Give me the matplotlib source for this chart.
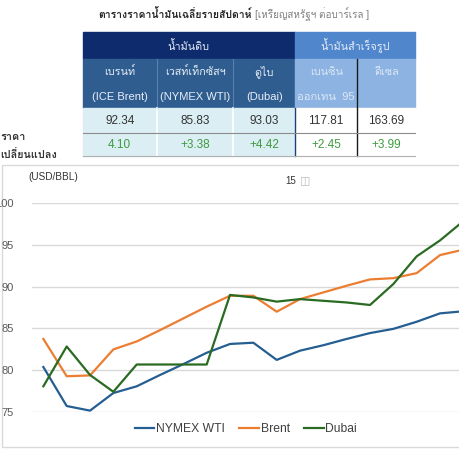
import matplotlib
matplotlib.use("Agg")
import matplotlib.pyplot as plt
from matplotlib import font_manager
from matplotlib.ft2font import FT2Font
from matplotlib.patches import Rectangle


def find_thai_font():
    for f in font_manager.fontManager.ttflist:
        try:
            if FT2Font(f.fname).get_char_index(0x0E01):
                return f.name
        except Exception:
            pass
    return None


thai = find_thai_font()
fams = ["Liberation Sans"] + ([thai] if thai else []) + ["DejaVu Sans"]
plt.rcParams["font.family"] = fams

# weekly prices, USD/BBL
wti = [80.4, 75.75, 75.2, 77.3, 78.1, 79.45, 80.75, 82.1, 83.15, 83.3,
       81.25, 82.35, 83.0, 83.75, 84.45, 84.95, 85.8, 86.8, 87.05]
brent = [83.75, 79.3, 79.4, 82.5, 83.45, 84.8, 86.2, 87.6, 88.9, 88.9,
         87.0, 88.5, 89.3, 90.1, 90.85, 91.0, 91.6, 93.75, 94.4]
dubai = [78.1, 82.85, 79.45, 77.45, 80.7, 80.7, 80.7, 80.7, 89.0, 88.7,
         88.2, 88.5, 88.3, 88.1, 87.8, 90.3, 93.6, 95.5, 97.8]
yticks = [75, 80, 85, 90, 95, 100]

# table
title_bold = "ตารางราคาน้ำมันเฉลี่ยรายสัปดาห์"
title_unit = "[เหรียญสหรัฐฯ ต่อบาร์เรล ]"
groups = ["น้ำมันดิบ", "น้ำมันสำเร็จรูป"]
names_th = ["เบรนท์", "เวสท์เท็กซัสฯ", "ดูไบ", "เบนซิน", "ดีเซล"]
names_en = ["(ICE Brent)", "(NYMEX WTI)", "(Dubai)", "ออกเทน  95", ""]
prices = ["92.34", "85.83", "93.03", "117.81", "163.69"]
changes = ["4.10", "+3.38", "+4.42", "+2.45", "+3.99"]
change_label = ["ราคา", "เปลี่ยนแปลง"]

W, H = 459, 450
fig = plt.figure(figsize=(W / 100, H / 100), dpi=100)

# ---- overlay in pixel coords
ov = fig.add_axes([0, 0, 1, 1])
ov.set_xlim(0, W)
ov.set_ylim(H, 0)
ov.axis("off")

ov.text(252, 14, title_bold, ha="right", va="center", fontsize=7.5,
        fontweight="bold", color="#262626")
ov.text(255, 14, title_unit, ha="left", va="center", fontsize=7.1,
        color="#7f7f7f")

cx = [82.7, 156.7, 233.3, 295, 357.3, 415]
ry = [32.3, 59.3, 108.3, 133.3, 156]

ov.add_patch(Rectangle((cx[0], ry[0]), cx[3] - cx[0], ry[1] - ry[0], color="#0e2b6d"))
ov.add_patch(Rectangle((cx[3], ry[0]), cx[5] - cx[3], ry[1] - ry[0], color="#4f86cc"))
ov.text((cx[0] + cx[3]) / 2, (ry[0] + ry[1]) / 2, groups[0], ha="center",
        va="center", fontsize=7.8, color="#e8eef7")
ov.text((cx[3] + cx[5]) / 2, (ry[0] + ry[1]) / 2, groups[1], ha="center",
        va="center", fontsize=7.8, color="#e8eef7")

for i in range(5):
    x0, x1 = cx[i], cx[i + 1]
    mid = (x0 + x1) / 2
    head = "#2f5d90" if i < 3 else "#8db3e2"
    body = "#dbeef4" if i < 3 else "#ffffff"
    txt = "#e8eef7" if i < 3 else "#dde8f4"
    ov.add_patch(Rectangle((x0, ry[1]), x1 - x0, ry[2] - ry[1], color=head))
    ov.add_patch(Rectangle((x0, ry[2]), x1 - x0, ry[4] - ry[2], color=body))
    ov.text(mid, 71.7, names_th[i], ha="center", va="center", fontsize=7.8, color=txt)
    ov.text(mid, 96.7, names_en[i], ha="center", va="center", fontsize=8, color=txt)
    ov.text(mid, (ry[2] + ry[3]) / 2, prices[i], ha="center", va="center",
            fontsize=8.5, color="#333333")
    ov.text(mid, (ry[3] + ry[4]) / 2 + 0.5, changes[i], ha="center", va="center",
            fontsize=8.5, color="#3f9b3f")

# separators
for i in (1, 2):
    ov.plot([cx[i], cx[i]], [ry[1], ry[2]], color="#5a81ad", lw=0.8)
    ov.plot([cx[i], cx[i]], [ry[2], ry[4]], color="white", lw=1.2)
ov.plot([cx[3], cx[3]], [ry[2], ry[4]], color="#1f3f7a", lw=1)
ov.plot([cx[4], cx[4]], [ry[1], ry[4]], color="#1a1a1a", lw=1)
ov.plot([cx[0], cx[5]], [ry[3], ry[3]], color="#8c8c8c", lw=0.8)
ov.plot([cx[0], cx[5]], [ry[4], ry[4]], color="#b0b0b0", lw=0.8)

ov.text(0, 137, change_label[0], ha="left", va="center", fontsize=7.8,
        fontweight="bold", color="#333333")
ov.text(0, 155, change_label[1], ha="left", va="center", fontsize=7.8,
        fontweight="bold", color="#333333")

# chart frame
ov.add_patch(Rectangle((2, 165), 470, 282, fill=False, ec="#d9d9d9", lw=1))
ov.text(28, 177.5, "(USD/BBL)", ha="left", va="center", fontsize=7.2,
        color="#333333")
ov.text(285, 181, "15", ha="left", va="center", fontsize=7, color="#333333")
ov.text(300, 180, "◫", ha="left", va="center", fontsize=8, color="#bbbbbb",
        family="DejaVu Sans")

# ---- line chart
left, right, top, bottom = 31.7, 475, 202.7, 412.3
ax = fig.add_axes([left / W, 1 - bottom / H, (right - left) / W, (bottom - top) / H])
ax.patch.set_alpha(0)
x = range(len(wti))
ax.plot(x, wti, color="#255e91", lw=1.6, label="NYMEX WTI")
ax.plot(x, brent, color="#ed7d31", lw=1.6, label="Brent")
ax.plot(x, dubai, color="#2a6b22", lw=1.6, label="Dubai")
ax.set_xlim(-0.5, len(wti) - 0.5)
ax.set_ylim(75, 100)
ax.set_yticks(yticks)
ax.set_xticks([])
ax.grid(axis="y", color="#d9d9d9", lw=1)
ax.set_axisbelow(True)
for s in ax.spines.values():
    s.set_visible(False)
ax.tick_params(axis="y", length=0, pad=13, labelsize=8, labelcolor="#595959")

fig.legend(loc="center", bbox_to_anchor=(246 / W, 1 - 429 / H), ncol=3,
           frameon=False, fontsize=8.7, handlelength=1.6, handletextpad=0.15,
           columnspacing=1.2, labelcolor="#404040")

fig.savefig("out.png", dpi=100)
